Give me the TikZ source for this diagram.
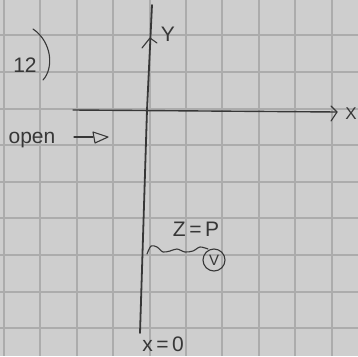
\documentclass[tikz,border=0pt]{standalone}
\usepackage{fontspec}
\setmainfont{Liberation Sans}
\definecolor{paper}{RGB}{206,206,206}
\definecolor{gridc}{RGB}{172,172,172}
\definecolor{ink}{RGB}{55,55,55}
\begin{document}
\begin{tikzpicture}[x=1pt,y=-1pt,
  axisline/.style={draw=ink,line width=1.8pt,line cap=round,line join=round},
  pen/.style={draw=ink,line width=1.1pt,line cap=round,line join=round},
  hand/.style={text=ink,inner sep=0pt,font=\fontsize{21}{21}\selectfont}]
\useasboundingbox (0,0) rectangle (358,356);
\fill[paper] (0,0) rectangle (358,356);
% grid
\foreach \gx in {4,40,77,113,150,186,222,259,295,332}
  \draw[gridc,line width=1.1pt] (\gx,0) -- (\gx,356);
\foreach \gy in {-2,35,72,109,145,182,218,255,292,328}
  \draw[gridc,line width=1.1pt] (0,\gy) -- (358,\gy);
% axes
\coordinate (yb) at (140,333);
\coordinate (yt) at (152,5);
\coordinate (xl) at (73,110);
\coordinate (xr) at (337,112);
\draw[axisline] (yb) -- (147,110) -- (yt);
\draw[pen] (142,48) -- (150,38) -- (157,43);
\draw[pen,line width=1.4pt] (xl) -- (xr);
\draw[pen] (331,106) -- (xr) -- (331,121);
% labels
\node[hand] (ylab) at (168,34) {Y};
\node[hand,anchor=east,font=\fontsize{17}{17}\selectfont] (xlab) at (357,114) {X};
\node[hand] (num) at (25,65) {12};
\draw[pen] (33,29) .. controls (52,42) and (54,68) .. (43,80);
\node[hand] (open) at (32,140) {open};
\coordinate (oa) at (74,137);
\coordinate (ob) at (93,137);
\draw[pen] (oa) -- (ob);
\draw[pen] (93,132) -- (108,137) -- (95,143) -- cycle;
% squiggle and circled V
\node[hand] (zp) at (196,229) {Z\,=\,P};
\node[draw=ink,line width=1.1pt,circle,minimum size=22pt,inner sep=0pt,text=ink,font=\fontsize{15}{15}\selectfont] (cv) at (214,260) {V};
\coordinate (sq) at (147,254);
\draw[pen] plot[smooth] coordinates {(sq) (151,246) (157,247) (163,252) (170,251) (177,249) (185,252) (193,251) (200,247) (208,249)};
\node[hand] (x0) at (163,344) {x\,=\,0};
\end{tikzpicture}
\end{document}
